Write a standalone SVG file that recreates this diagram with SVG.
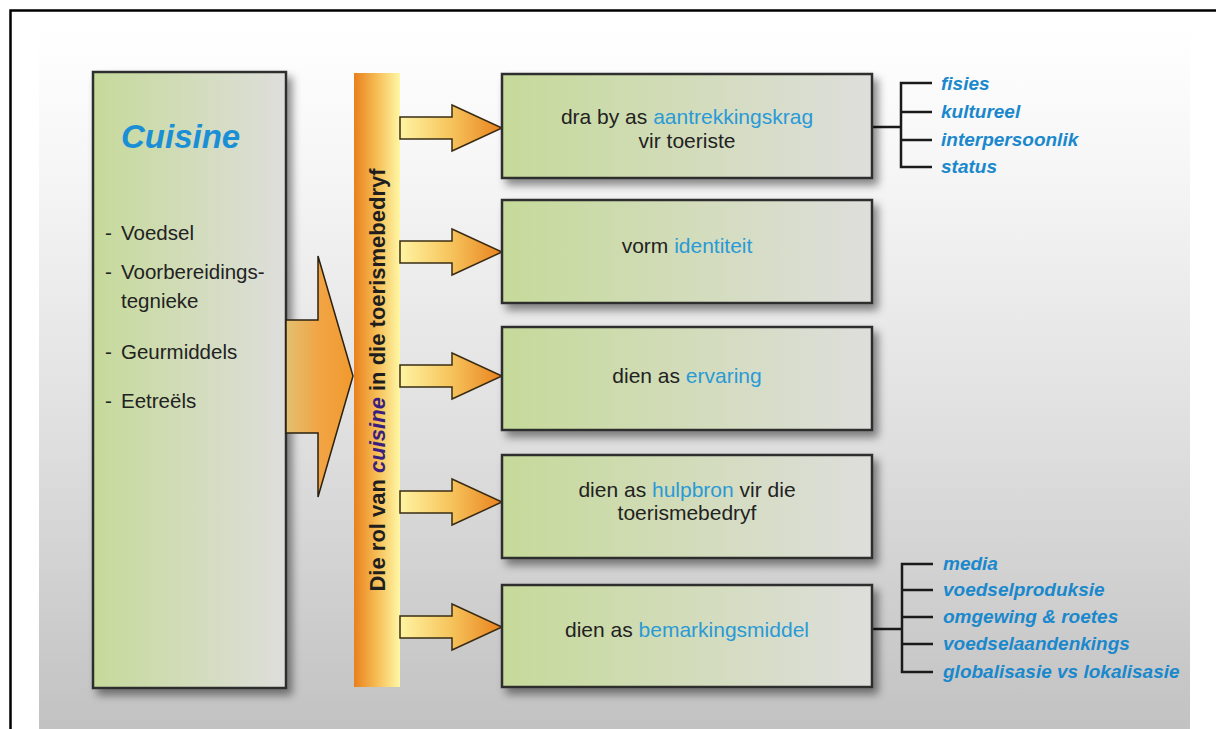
<svg xmlns="http://www.w3.org/2000/svg" width="1216" height="729" viewBox="0 0 1216 729">
<defs>
<linearGradient id="bg" x1="0" y1="0" x2="0" y2="1">
<stop offset="0" stop-color="#ffffff"/>
<stop offset="0.2" stop-color="#f6f6f6"/>
<stop offset="0.6" stop-color="#dedede"/>
<stop offset="1" stop-color="#c2c2c2"/>
</linearGradient>
<linearGradient id="boxg" x1="0" y1="0" x2="1" y2="0">
<stop offset="0" stop-color="#c6da9a"/>
<stop offset="0.5" stop-color="#d2dcba"/>
<stop offset="1" stop-color="#dededc"/>
</linearGradient>
<linearGradient id="barg" x1="0" y1="0" x2="1" y2="0">
<stop offset="0" stop-color="#e9801c"/>
<stop offset="0.5" stop-color="#f6be55"/>
<stop offset="1" stop-color="#fff7a6"/>
</linearGradient>
<linearGradient id="arrg" x1="0" y1="0" x2="1" y2="0">
<stop offset="0" stop-color="#fff4a2"/>
<stop offset="0.5" stop-color="#f6c45c"/>
<stop offset="1" stop-color="#e9821e"/>
</linearGradient>
<linearGradient id="bigarr" x1="0" y1="0" x2="1" y2="0">
<stop offset="0" stop-color="#e2c070"/>
<stop offset="0.5" stop-color="#f2a444"/>
<stop offset="1" stop-color="#f09a2e"/>
</linearGradient>
<filter id="sh" x="-10%" y="-10%" width="130%" height="130%">
<feDropShadow dx="5" dy="6" stdDeviation="4" flood-color="#000" flood-opacity="0.45"/>
</filter>
<style>
.box{fill:url(#boxg);stroke:#2e2e2e;stroke-width:2.5;filter:url(#sh)}
.t{font-family:"Liberation Sans",Arial,sans-serif;font-size:21px;fill:#222;text-anchor:middle}
.hl{fill:#2a9ad6}
.li{font-family:"Liberation Sans",Arial,sans-serif;font-size:20.5px;fill:#222}
.lab{font-family:"Liberation Sans",Arial,sans-serif;font-size:19px;font-weight:bold;font-style:italic;fill:#1a88cc}
.arr{fill:url(#arrg);stroke:#3a2c14;stroke-width:1.5;stroke-linejoin:miter}
.br{fill:none;stroke:#1a1a1a;stroke-width:2.5}
</style>
</defs>
<rect x="0" y="0" width="1216" height="729" fill="#ffffff"/>
<rect x="39" y="28" width="1151" height="701" fill="url(#bg)"/>
<path d="M10.5,729 V10.5 H1216" fill="none" stroke="#000" stroke-width="2.5"/>

<g id="cuisine">
<rect x="93" y="72" width="193" height="616" class="box"/>
<text x="121" y="148" font-family="Liberation Sans,Arial,sans-serif" font-size="33" font-weight="bold" font-style="italic" fill="#1a8fd6">Cuisine</text>
<text class="li" x="105" y="240">-</text><text class="li" x="121" y="240">Voedsel</text>
<text class="li" x="105" y="279">-</text><text class="li" x="121" y="279">Voorbereidings-</text>
<text class="li" x="121" y="308">tegnieke</text>
<text class="li" x="105" y="359">-</text><text class="li" x="121" y="359">Geurmiddels</text>
<text class="li" x="105" y="408">-</text><text class="li" x="121" y="408">Eetreëls</text>
</g>

<g id="bar">
<rect x="354" y="73" width="46" height="614" fill="url(#barg)"/>
<text transform="translate(385,380) rotate(-90)" text-anchor="middle" font-family="Liberation Sans,Arial,sans-serif" font-size="22" font-weight="bold" fill="#1e1e1e">Die rol van <tspan font-style="italic" fill="#3b1f7e">cuisine</tspan> in die toerismebedryf</text>
</g>

<g id="connectors">
<polygon points="286,320 318,320 318,256 353,376 318,497 318,433 286,433" fill="url(#bigarr)" stroke="#2a2010" stroke-width="1.5"/>
<polygon class="arr" points="400,117 452,117 452,105 502,128 452,151 452,139 400,139"/>
<polygon class="arr" points="400,241 452,241 452,229 502,252 452,275 452,263 400,263"/>
<polygon class="arr" points="400,365 452,365 452,353 502,376 452,399 452,387 400,387"/>
<polygon class="arr" points="400,491 452,491 452,479 502,502 452,525 452,513 400,513"/>
<polygon class="arr" points="400,616 452,616 452,604 502,627 452,650 452,638 400,638"/>
<path class="br" d="M872,127 H901 M932,83 H901 V167 H932 M901,112 H932 M901,140 H932"/>
<path class="br" d="M872,629 H902 M933,564 H902 V672 H933 M902,590 H933 M902,617 H933 M902,644 H933"/>
</g>

<g id="n1">
<rect x="502" y="74" width="370" height="104" class="box"/>
<text class="t" x="687" y="124">dra by as <tspan class="hl">aantrekkingskrag</tspan></text>
<text class="t" x="687" y="148">vir toeriste</text>
</g>
<g id="n2">
<rect x="502" y="200" width="370" height="103" class="box"/>
<text class="t" x="687" y="253">vorm <tspan class="hl">identiteit</tspan></text>
</g>
<g id="n3">
<rect x="502" y="327" width="370" height="103" class="box"/>
<text class="t" x="687" y="383">dien as <tspan class="hl">ervaring</tspan></text>
</g>
<g id="n4">
<rect x="502" y="455" width="370" height="103" class="box"/>
<text class="t" x="687" y="497">dien as <tspan class="hl">hulpbron</tspan> vir die</text>
<text class="t" x="687" y="520">toerismebedryf</text>
</g>
<g id="n5">
<rect x="502" y="585" width="370" height="102" class="box"/>
<text class="t" x="687" y="637">dien as <tspan class="hl">bemarkingsmiddel</tspan></text>
</g>

<g id="labels1">
<text class="lab" x="941" y="90">fisies</text>
<text class="lab" x="941" y="118">kultureel</text>
<text class="lab" x="941" y="146">interpersoonlik</text>
<text class="lab" x="941" y="173">status</text>
</g>
<g id="labels5">
<text class="lab" x="943" y="570">media</text>
<text class="lab" x="943" y="596">voedselproduksie</text>
<text class="lab" x="943" y="623">omgewing &amp; roetes</text>
<text class="lab" x="943" y="650">voedselaandenkings</text>
<text class="lab" x="943" y="678">globalisasie vs lokalisasie</text>
</g>
</svg>
